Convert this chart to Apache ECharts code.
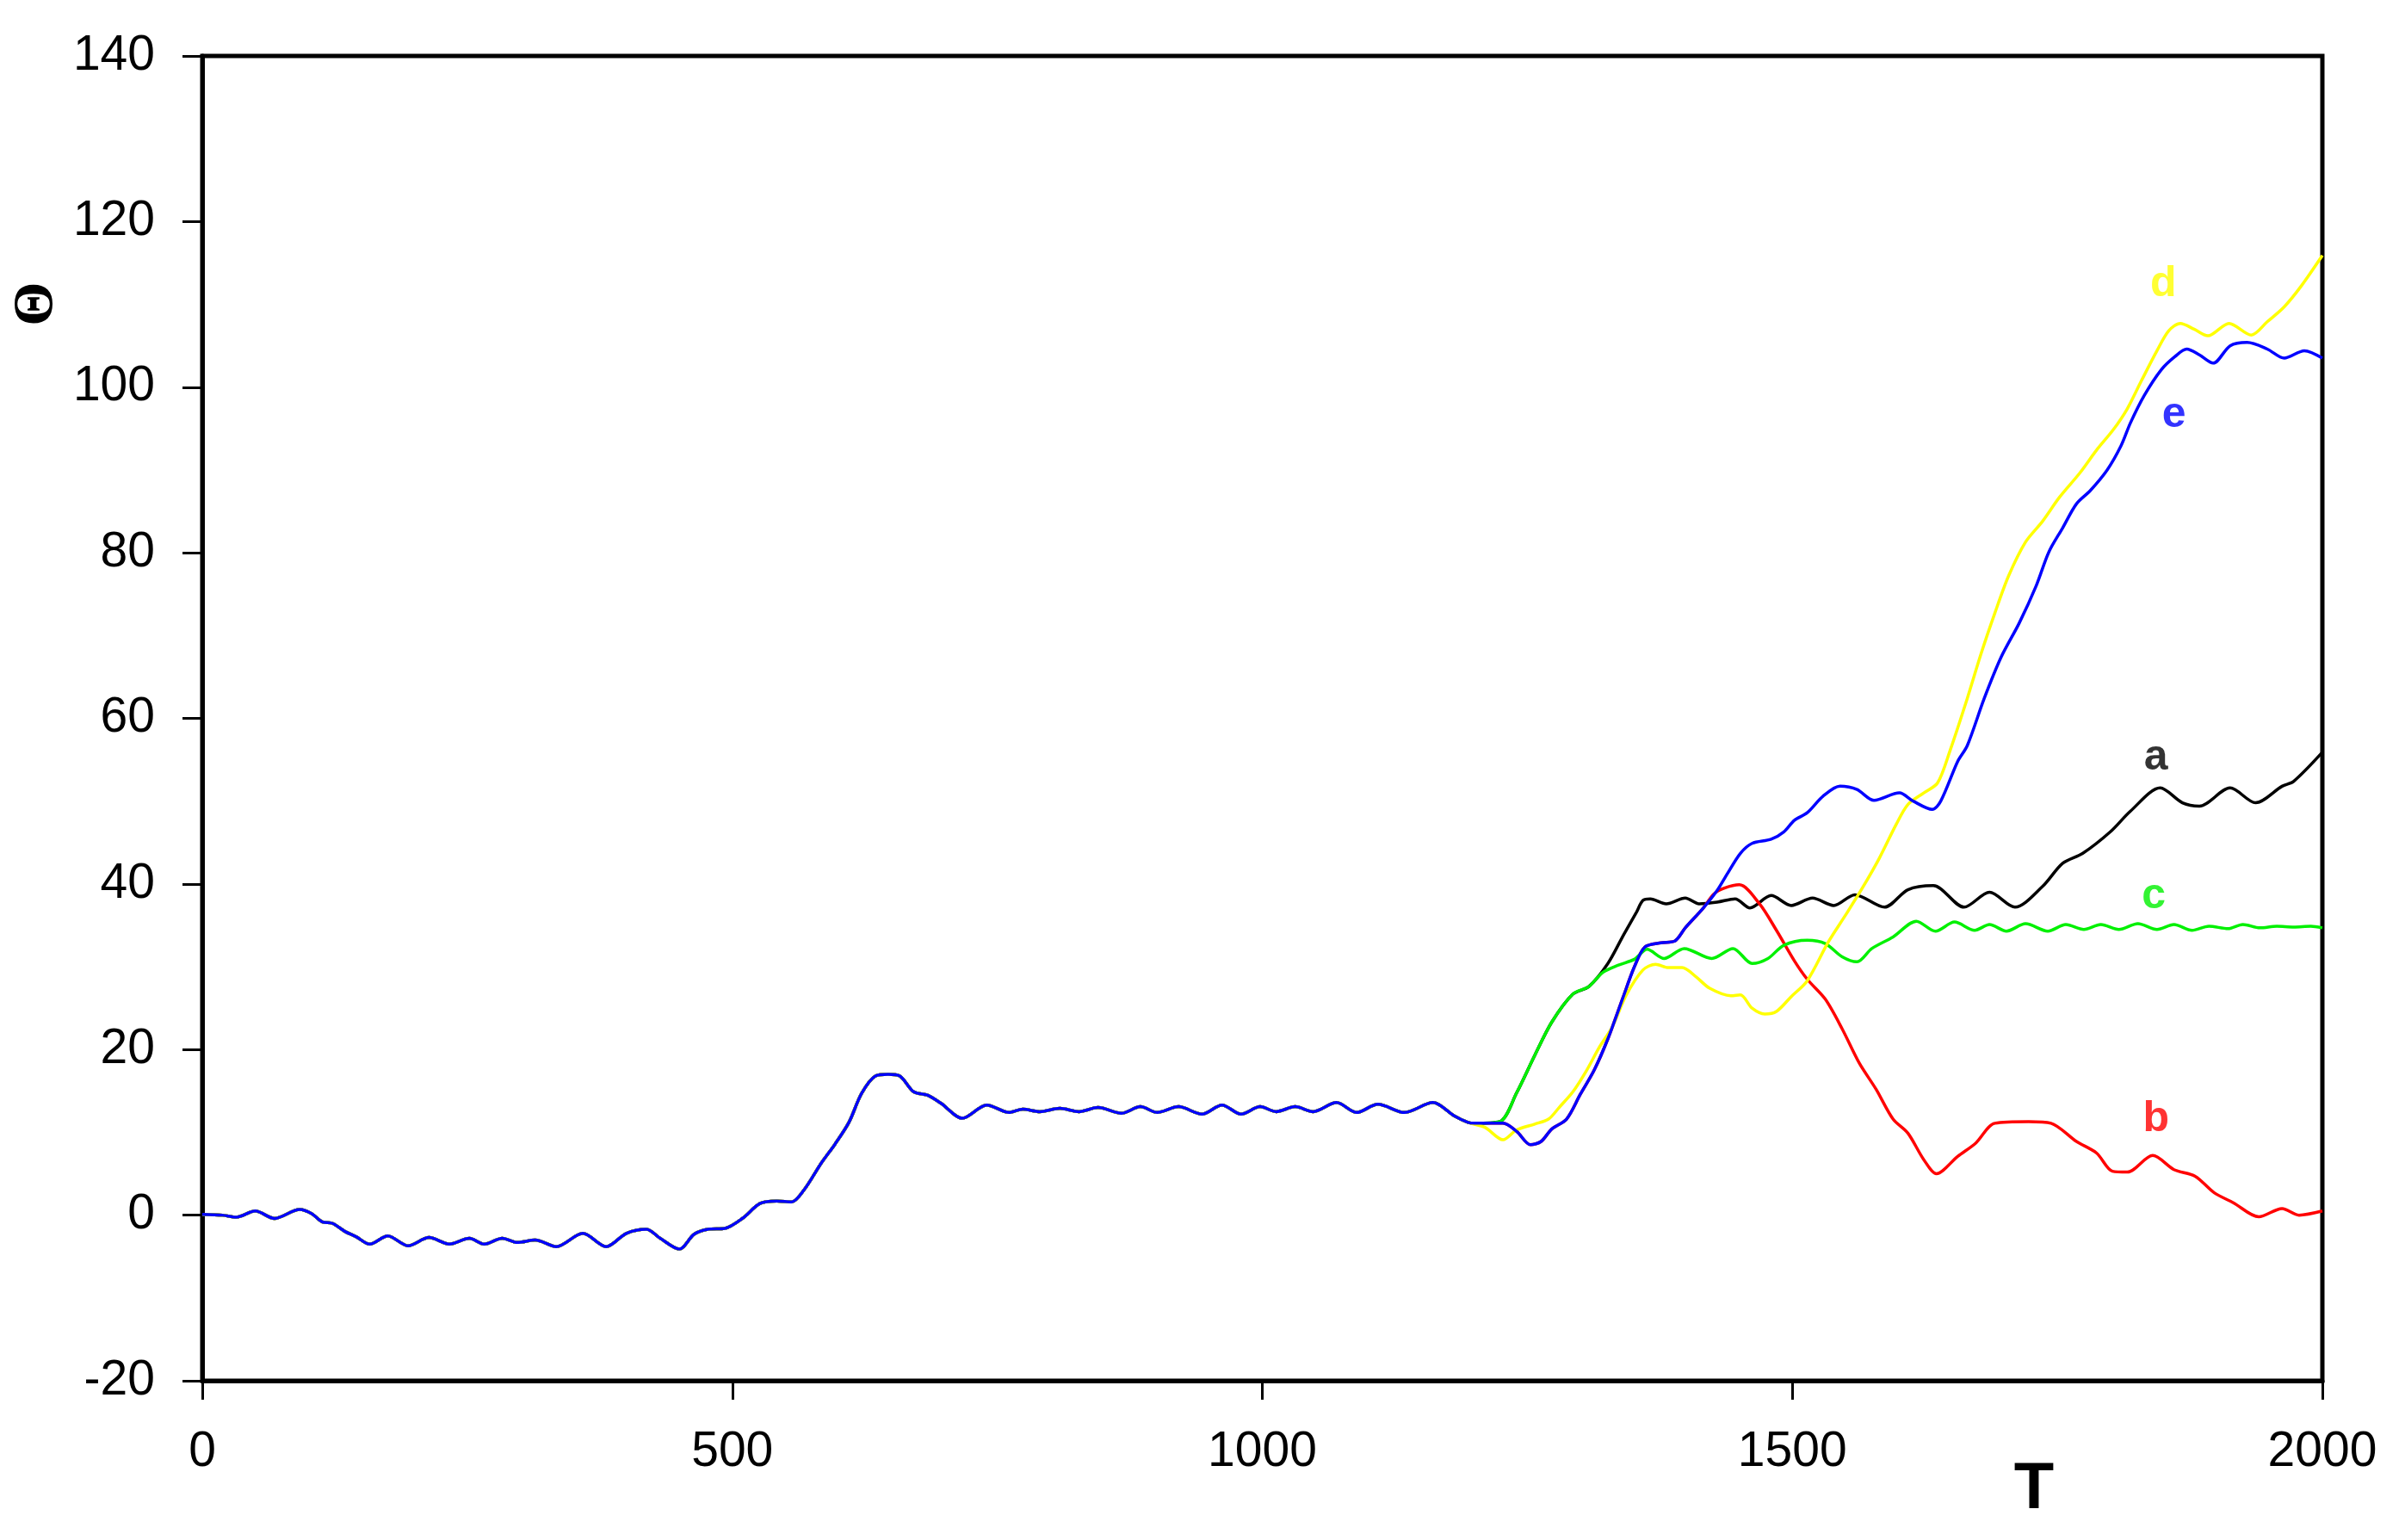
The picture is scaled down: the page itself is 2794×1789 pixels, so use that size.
<!DOCTYPE html>
<html>
<head>
<meta charset="utf-8">
<title>Theta vs T</title>
<script src="https://cdn.jsdelivr.net/npm/echarts@6/dist/echarts.min.js"></script>
<style>
html,body{margin:0;padding:0;background:#fff;}
#chart{width:2794px;height:1789px;}
</style>
</head>
<body>
<div id="chart"></div>
<script>
// common part of all five runs (T, Theta)
var base = [[0,0.1],[19,0],[32,-0.25],[50,0.5],[68,-0.4],[92,0.7],[103,0.2],[113,-0.8],[123,-1],[135,-2],[145,-2.6],[158,-3.5],[175,-2.5],[194,-3.7],[214,-2.7],[233,-3.5],[252,-2.8],[266,-3.5],[283,-2.8],[297,-3.3],[314,-3],[334,-3.8],[359,-2.2],[381,-3.8],[400,-2.2],[419,-1.7],[432,-2.8],[450,-4.1],[464,-2.3],[477,-1.7],[493,-1.6],[510,-0.35],[526,1.4],[542,1.7],[556,1.6],[568,3.1],[584,6.3],[597,8.6],[610,11.2],[622,14.7],[635,16.8],[647,17.0],[658,16.8],[671,14.9],[684,14.5],[697,13.5],[717,11.7],[740,13.3],[761,12.4],[774,12.8],[790,12.5],[809,12.9],[827,12.5],[845,13.0],[867,12.3],[885,13.1],[901,12.4],[921,13.1],[943,12.2],[962,13.3],[980,12.2],[998,13.1],[1013,12.5],[1031,13.1],[1048,12.5],[1070,13.6],[1089,12.4],[1109,13.4],[1134,12.4],[1161,13.6],[1181,12.0],[1194,11.2]];
// e (blue) up to where b leaves it
var eRise = [[1200,11.1],[1227,11.1],[1240,10.1],[1253,8.5],[1263,8.9],[1273,10.4],[1287,11.6],[1300,14.6],[1313,17.5],[1326,21.3],[1340,26.2],[1351,30.0],[1361,32.4],[1376,32.9],[1389,33.1],[1399,34.7],[1416,37.1]];
var eTail = [[1429,39.2],[1439,41.3],[1451,43.7],[1462,44.9],[1480,45.4],[1492,46.3],[1502,47.7],[1514,48.6],[1529,50.6],[1545,51.8],[1561,51.4],[1577,50.1],[1601,51.0],[1614,50.0],[1632,49.0],[1640,50.0],[1656,54.8],[1665,56.7],[1681,62.4],[1697,67.4],[1714,71.5],[1730,76.0],[1742,80.1],[1755,83.0],[1768,85.9],[1781,87.5],[1797,90.0],[1810,92.9],[1819,95.7],[1832,99.0],[1848,102.1],[1861,103.7],[1872,104.6],[1884,103.9],[1897,102.9],[1913,105.0],[1929,105.4],[1948,104.6],[1964,103.5],[1983,104.4],[2000,103.5]];
var bTail = [[1426,38.8],[1436,39.5],[1450,39.9],[1469,37.6],[1485,34.4],[1502,30.7],[1514,28.5],[1531,26.1],[1547,22.5],[1563,18.4],[1579,15.2],[1595,11.6],[1609,9.9],[1624,6.7],[1636,5.0],[1656,7.1],[1673,8.7],[1691,11.1],[1723,11.3],[1744,11.1],[1768,8.9],[1787,7.5],[1802,5.3],[1816,5.2],[1840,7.2],[1860,5.5],[1880,4.7],[1898,2.7],[1916,1.5],[1940,-0.2],[1962,0.8],[1978,0.0],[2000,0.5]];
// c (green) up to where a leaves it
var cRise = [[1200,11.1],[1224,11.3],[1240,14.8],[1257,19.3],[1273,23.3],[1293,26.7],[1308,27.6]];
var cTail = [[1321,29.3],[1336,30.2],[1351,30.9],[1363,32.1],[1379,31.0],[1398,32.2],[1424,31.0],[1444,32.2],[1462,30.4],[1477,31.0],[1492,32.6],[1514,33.2],[1531,32.8],[1547,31.2],[1561,30.6],[1575,32.2],[1595,33.6],[1617,35.5],[1635,34.3],[1653,35.4],[1672,34.4],[1686,35.1],[1702,34.3],[1720,35.2],[1741,34.3],[1758,35.1],[1775,34.5],[1791,35.1],[1808,34.5],[1826,35.2],[1844,34.5],[1860,35.1],[1877,34.4],[1893,34.9],[1911,34.6],[1925,35.1],[1941,34.7],[1957,34.9],[1973,34.8],[1989,34.9],[2000,34.7]];
var aTail = [[1326,30.4],[1341,33.9],[1353,36.6],[1359,38.0],[1366,38.2],[1381,37.6],[1399,38.3],[1412,37.6],[1429,37.8],[1446,38.2],[1460,37.1],[1480,38.6],[1499,37.4],[1519,38.3],[1539,37.4],[1559,38.7],[1587,37.2],[1609,39.3],[1633,39.8],[1662,37.2],[1686,39.0],[1710,37.2],[1736,39.7],[1755,42.5],[1774,43.7],[1800,46.3],[1819,48.8],[1847,51.6],[1868,49.8],[1884,49.4],[1913,51.6],[1937,49.8],[1962,51.8],[1973,52.4],[2000,55.9]];
var dTail = [[1210,10.6],[1227,9.1],[1240,10.3],[1257,11.0],[1270,11.6],[1280,13.0],[1293,14.9],[1306,17.5],[1318,20.3],[1330,22.7],[1343,26.5],[1359,29.6],[1371,30.3],[1383,29.9],[1396,29.9],[1409,28.8],[1422,27.4],[1442,26.5],[1451,26.6],[1462,25.0],[1474,24.3],[1485,24.6],[1499,26.4],[1514,28.3],[1534,33.0],[1550,36.2],[1566,39.5],[1582,43.1],[1598,47.2],[1609,49.6],[1624,51.0],[1637,52.2],[1649,56.2],[1665,62.4],[1678,67.8],[1691,72.7],[1704,77.2],[1720,81.3],[1736,83.8],[1752,86.7],[1771,89.6],[1787,92.4],[1803,94.9],[1816,97.4],[1829,100.7],[1844,104.4],[1855,106.8],[1866,107.7],[1879,107.0],[1892,106.2],[1912,107.7],[1933,106.3],[1948,107.9],[1964,109.7],[1980,112.2],[2000,115.9]];

// curve letters placed at data coords
var curveNames = ['a','b','c','d','e'];
var curveColors = ['#000000','#ff0000','#00f000','#ffff00','#0000ff'];
var labelPos = [[1843,55.2],[1843,11.6],[1841,38.5],[1850,112.4],[1860,96.6]];

var xTicks = {min:0, max:2000, interval:500};
var yTicks = {min:-20, max:140, interval:20};

var curveData = {
	a: base.concat(cRise, aTail),
	b: base.concat(eRise, bTail),
	c: base.concat(cRise, cTail),
	d: base.concat(dTail),
	e: base.concat(eRise, eTail)
};

var myChart = echarts.init(document.getElementById('chart'));
var series = [];
curveNames.forEach(function(n, i){
	series.push({
		type:'line',
		name:n,
		data:curveData[n],
		showSymbol:false,
		smooth:0.3,
		z:2+i,
		lineStyle:{color:curveColors[i], width:3.5},
		animation:false
	});
});
//字母标注
series.push({
	type:'scatter',
	symbolSize:0,
	z:10,
	animation:false,
	data:labelPos.map(function(p, i){
		return {
			value:p,
			label:{show:true, position:'inside', formatter:curveNames[i],
				color:curveColors[i], fontSize:50, fontWeight:'bold', fontFamily:'Liberation Sans'}
		};
	})
});

var option = {
	backgroundColor:'#fff',
	animation:false,
	grid:{left:235, right:96, top:65, bottom:185, show:true, borderColor:'#000', borderWidth:5, containLabel:false},
	xAxis:{
		type:'value', min:xTicks.min, max:xTicks.max, interval:xTicks.interval,
		axisLine:{show:true, onZero:false, lineStyle:{color:'#000', width:5}},
		axisTick:{show:true, inside:false, length:22, lineStyle:{color:'#000', width:3}},
		axisLabel:{color:'#000', fontSize:57, fontFamily:'Liberation Sans', margin:55,
			formatter:function(v){ return String(v); }},
		splitLine:{show:false}
	},
	yAxis:{
		type:'value', min:yTicks.min, max:yTicks.max, interval:yTicks.interval,
		axisLine:{show:true, onZero:false, lineStyle:{color:'#000', width:5}},
		axisTick:{show:true, inside:false, length:23, lineStyle:{color:'#000', width:3}},
		axisLabel:{color:'#000', fontSize:57, fontFamily:'Liberation Sans', margin:55,
			formatter:function(v){ return String(v); }},
		splitLine:{show:false}
	},
	graphic:[
		{type:'text', x:2363, y:1731, style:{text:'T', font:'bold 76px "Liberation Sans"', fill:'#000', textAlign:'center', textVerticalAlign:'middle'}},
		{type:'text', x:43, y:353, rotation:Math.PI/2, style:{text:'Θ', font:'bold 66px "Liberation Serif"', fill:'#000', textAlign:'center', textVerticalAlign:'middle'}}
	],
	series:series
};
myChart.setOption(option);
</script>
</body>
</html>
